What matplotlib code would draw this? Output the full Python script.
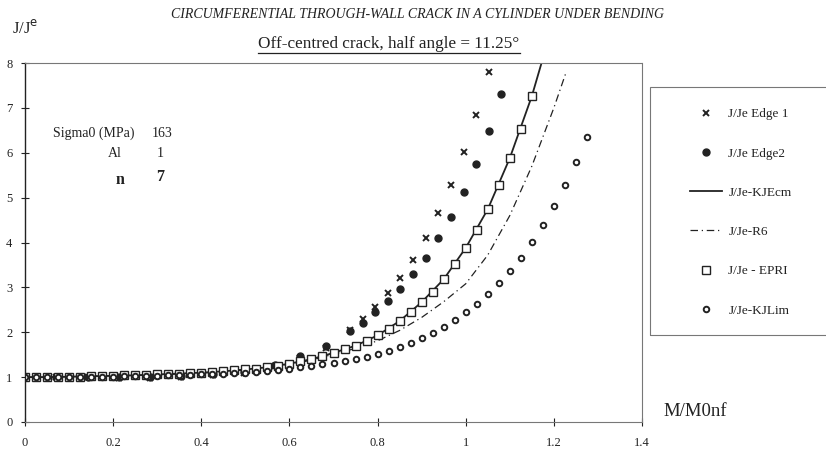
import numpy as np
import matplotlib
matplotlib.use("Agg")
import matplotlib.pyplot as plt
from matplotlib.lines import Line2D
from matplotlib.patches import Rectangle
from matplotlib.ticker import FuncFormatter

# ================= DATA =================
edge1_x = [0.0, 0.071, 0.142, 0.213, 0.284, 0.355, 0.426, 0.497, 0.568, 0.625, 0.682,
           0.738, 0.767, 0.795, 0.824, 0.852, 0.881, 0.909, 0.938, 0.966, 0.995, 1.024, 1.053]
edge1_y = [1.0, 1.0, 1.0, 0.98, 0.98, 1.0, 1.04, 1.10, 1.24, 1.42, 1.66,
           2.05, 2.29, 2.56, 2.87, 3.21, 3.61, 4.11, 4.65, 5.28, 6.01, 6.84, 7.80]

edge2_x = [0.0, 0.071, 0.142, 0.213, 0.284, 0.355, 0.426, 0.497, 0.568, 0.625, 0.682,
           0.738, 0.766, 0.795, 0.824, 0.852, 0.881, 0.909, 0.938, 0.966, 0.995, 1.024, 1.052, 1.081]
edge2_y = [1.0, 1.0, 1.0, 1.0, 1.0, 1.03, 1.07, 1.12, 1.27, 1.46, 1.70,
           2.03, 2.20, 2.45, 2.69, 2.96, 3.30, 3.65, 4.10, 4.57, 5.12, 5.75, 6.48, 7.32]

kjecm_x = [0.0, 0.05, 0.1, 0.15, 0.2, 0.25, 0.3, 0.35, 0.4, 0.45, 0.5, 0.55, 0.6, 0.65,
           0.7, 0.75, 0.8, 0.85, 0.9, 0.95, 1.0, 1.05, 1.1, 1.15, 1.175]
kjecm_y = [1.0, 1.0, 1.01, 1.02, 1.03, 1.04, 1.06, 1.08, 1.10, 1.13, 1.17, 1.22, 1.30, 1.40,
           1.54, 1.70, 1.93, 2.25, 2.67, 3.18, 3.88, 4.74, 5.88, 7.26, 8.10]

r6_x = [0.0, 0.05, 0.1, 0.15, 0.2, 0.25, 0.3, 0.35, 0.4, 0.45, 0.5, 0.55, 0.6, 0.65,
        0.7, 0.75, 0.8, 0.85, 0.9, 0.95, 1.0, 1.05, 1.1, 1.15, 1.2, 1.228]
r6_y = [1.0, 1.0, 1.01, 1.02, 1.03, 1.04, 1.05, 1.07, 1.09, 1.12, 1.16, 1.21, 1.28, 1.38,
        1.51, 1.64, 1.81, 2.04, 2.33, 2.68, 3.08, 3.72, 4.60, 5.70, 7.00, 7.80]

epri_x = [0.0, 0.025, 0.05, 0.075, 0.1, 0.125, 0.15, 0.175, 0.2, 0.225, 0.25, 0.275,
          0.3, 0.325, 0.35, 0.375, 0.4, 0.425, 0.45, 0.475, 0.5, 0.525, 0.55, 0.575,
          0.6, 0.625, 0.65, 0.675, 0.7, 0.725, 0.75, 0.775, 0.8, 0.825, 0.85, 0.875,
          0.9, 0.925, 0.95, 0.975, 1.0, 1.025, 1.05, 1.075, 1.1, 1.125, 1.15]
epri_y = [1.0, 1.0, 1.0, 1.0, 1.01, 1.01, 1.02, 1.02, 1.03, 1.04, 1.04, 1.05,
          1.06, 1.07, 1.08, 1.09, 1.10, 1.11, 1.13, 1.15, 1.17, 1.19, 1.22, 1.25,
          1.30, 1.35, 1.40, 1.47, 1.54, 1.62, 1.70, 1.81, 1.93, 2.07, 2.25, 2.45,
          2.67, 2.90, 3.18, 3.51, 3.88, 4.28, 4.74, 5.28, 5.88, 6.53, 7.26]

kjlim_x = [0.0, 0.025, 0.05, 0.075, 0.1, 0.125, 0.15, 0.175, 0.2, 0.225, 0.25, 0.275,
           0.3, 0.325, 0.35, 0.375, 0.4, 0.425, 0.45, 0.475, 0.5, 0.525, 0.55, 0.575,
           0.6, 0.625, 0.65, 0.675, 0.7, 0.725, 0.75, 0.775, 0.8, 0.825, 0.85, 0.875,
           0.9, 0.925, 0.95, 0.975, 1.0, 1.025, 1.05, 1.075, 1.1, 1.125, 1.15, 1.175,
           1.2, 1.225, 1.25, 1.275]
kjlim_y = [1.0, 1.0, 1.0, 1.0, 1.0, 1.0, 1.01, 1.01, 1.01, 1.02, 1.02, 1.03,
           1.03, 1.04, 1.05, 1.05, 1.06, 1.07, 1.08, 1.09, 1.10, 1.12, 1.14, 1.16,
           1.19, 1.22, 1.25, 1.29, 1.31, 1.36, 1.40, 1.45, 1.51, 1.58, 1.67, 1.76,
           1.87, 1.98, 2.12, 2.27, 2.45, 2.63, 2.85, 3.10, 3.36, 3.65, 4.01, 4.38,
           4.81, 5.28, 5.80, 6.35]

labels = ["J/Je Edge 1", "J/Je Edge2", "J/Je-KJEcm", "J/Je-R6", "J/Je - EPRI", "J/Je-KJLim"]
# ========================================

INK = "#222222"
SERIF = ["Liberation Serif", "DejaVu Serif"]
W, H = 826, 455


def main():
    plt.rcParams["font.family"] = SERIF
    fig = plt.figure(figsize=(W / 100, H / 100), dpi=100)
    ax = fig.add_axes([25 / W, 1 - 422 / H, 617 / W, 359 / H])

    h1, = ax.plot(edge1_x, edge1_y, ls="none", marker="x", ms=5, mew=1.4, color=INK)
    h2, = ax.plot(edge2_x, edge2_y, ls="none", marker="o", ms=5, color=INK)
    h3, = ax.plot(kjecm_x, kjecm_y, ls="-", lw=1.3, color=INK)
    h4, = ax.plot(r6_x, r6_y, ls=(0, (6, 3, 1, 3)), lw=0.9, color=INK)
    h5, = ax.plot(epri_x, epri_y, ls="none", marker="s", ms=5.2, mfc="white", mec=INK, mew=1.0)
    h6, = ax.plot(kjlim_x, kjlim_y, ls="none", marker="o", ms=4, mfc="white", mec=INK, mew=1.4)

    ax.set_xlim(0, 1.4)
    ax.set_ylim(0, 8)
    ax.set_xticks([0, 0.2, 0.4, 0.6, 0.8, 1.0, 1.2, 1.4])
    ax.set_yticks(range(0, 9))
    ax.xaxis.set_major_formatter(FuncFormatter(lambda v, p: f"{v:g}"))
    ax.tick_params(axis="both", direction="inout", length=6, width=0.8, colors=INK, labelsize=9)
    ax.tick_params(axis="x", pad=8)
    ax.tick_params(axis="y", pad=6)

    for side in ["top", "right", "bottom"]:
        ax.spines[side].set_color("#777777")
        ax.spines[side].set_linewidth(0.8)
    ax.spines["top"].set_linestyle((0, (1, 1)))
    ax.spines["left"].set_color(INK)
    ax.spines["left"].set_linewidth(1.0)

    # parameter block
    ax.text(0.0635, 6.44, "Sigma0 (MPa)", fontsize=10, color=INK, va="center")
    ax.text(0.288, 6.44, "163", fontsize=10, color=INK, va="center")
    ax.text(0.189, 5.99, "Al", fontsize=10, color=INK, va="center")
    ax.text(0.298, 5.99, "1", fontsize=10, color=INK, va="center")
    ax.text(0.206, 5.40, "n", fontsize=11.5, fontweight="bold", color=INK, va="center")
    ax.text(0.298, 5.45, "7", fontsize=11.5, fontweight="bold", color=INK, va="center")

    # titles
    fig.text(418 / W, 1 - 15 / H, "CIRCUMFERENTIAL THROUGH-WALL CRACK IN A CYLINDER UNDER BENDING",
             ha="center", va="center", fontsize=10, style="italic", color=INK)
    fig.text(389 / W, 1 - 44 / H, "Off-centred crack, half angle = 11.25°",
             ha="center", va="center", fontsize=12.3, color=INK)
    fig.add_artist(Line2D([258 / W, 520 / W], [1 - 53 / H, 1 - 53 / H],
                          transform=fig.transFigure, color=INK, lw=0.9))
    fig.text(12 / W, 1 - 28 / H, "J/J$^{\\mathrm{e}}$", ha="left", va="center",
             fontsize=12, color=INK)
    fig.text(663 / W, 1 - 412 / H, "M/M0nf", ha="left", va="center", fontsize=13.5, color=INK)

    # legend box (runs off the right edge like the original)
    fig.add_artist(Rectangle((650 / W, 1 - 335 / H), 200 / W, 248 / H,
                             transform=fig.transFigure, fill=False,
                             edgecolor="#777777", lw=0.8))
    leg = fig.legend([h1, h2, h3, h4, h5, h6], labels,
                     loc="upper left", bbox_to_anchor=(690 / W, 1 - 108 / H),
                     fontsize=9.5, labelspacing=2.05, borderpad=0,
                     handlelength=2.4, handletextpad=0.5, borderaxespad=0,
                     frameon=False)
    for t in leg.get_texts():
        t.set_color(INK)

    fig.savefig("out.png", dpi=100, facecolor="white")


if __name__ == "__main__":
    main()
